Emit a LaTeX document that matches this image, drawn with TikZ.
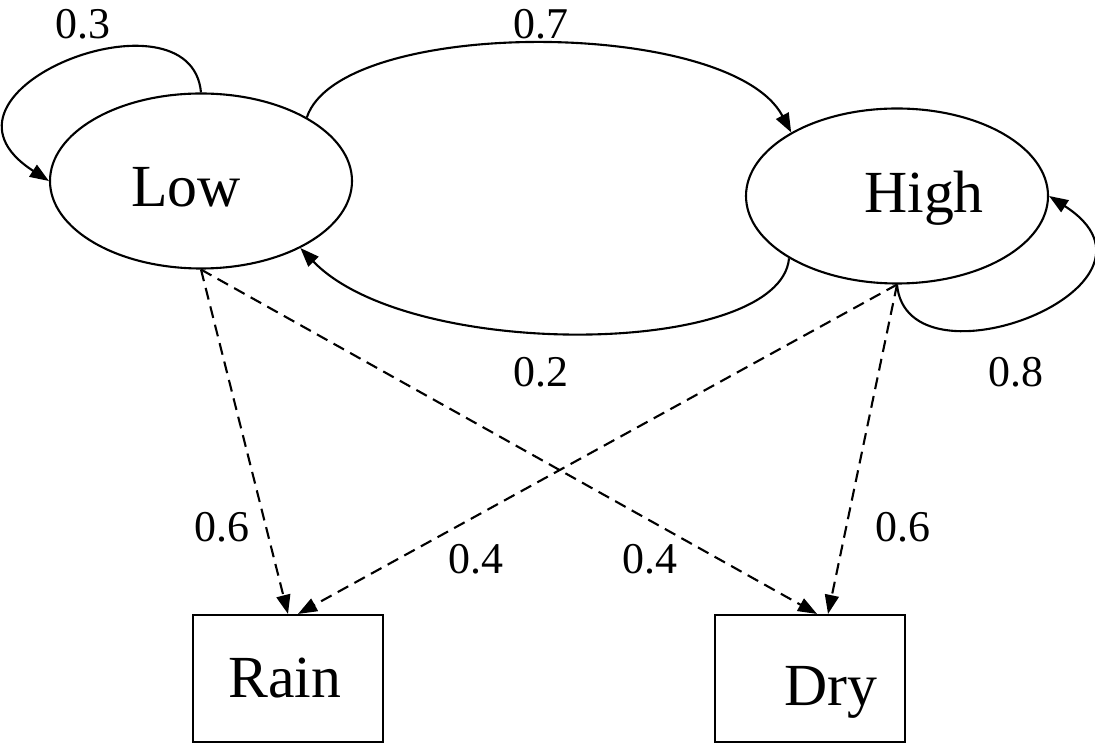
\documentclass[tikz,border=0pt]{standalone}
\usepackage{fontspec}
\setmainfont{Liberation Serif}
\usetikzlibrary{arrows.meta,shapes.geometric}

\begin{document}
\begin{tikzpicture}[
      line width=0.6pt,
      trans/.style={-{Triangle[length=0.19cm,width=0.14cm]}},
      emit/.style={trans, dash pattern=on 3.4pt off 2pt},
      state/.style={draw, ellipse, inner sep=0pt,
                    minimum width=3.02cm, minimum height=1.75cm},
      obs/.style={draw, rectangle, inner sep=0pt,
                  minimum width=1.9cm, minimum height=1.27cm},
      lbl/.style={font=\fontsize{17}{20}\selectfont, anchor=base, inner sep=0pt},
      prob/.style={font=\fontsize{12.5}{15}\selectfont, inner sep=0pt}
    ]
    \useasboundingbox (0,0) rectangle (10.95,7.42);
    % hidden states
    \node[state] (low) at (2.01,5.61) {};
    \node[state] (high) at (8.97,5.46) {};
    \node[lbl] (lowtxt) at (1.86,5.35) {Low};
    \node[lbl] (hightxt) at (9.24,5.29) {High};
    % observations
    \node[obs] (rain) at (2.88,0.635) {};
    \node[obs] (dry) at (8.10,0.635) {};
    \node[lbl] (raintxt) at (2.85,0.45) {Rain};
    \node[lbl] (drytxt) at (8.31,0.37) {Dry};
    % transitions
    \draw[trans] (low.90) .. controls +(-0.1,1.1) and +(-1.4,0.9) .. (low.180);
    \draw[trans] (high.270) .. controls +(0.1,-1.1) and +(1.4,-0.9) .. (high.0);
    \draw[trans] (low.31) .. controls (3.4,7.25) and (7.3,7.25) .. (high.149);
    \draw[trans] (high.210) .. controls (7.8,3.85) and (4.1,3.8) .. (low.-34);
    % emissions
    \draw[emit] (low.south) -- (rain.north);
    \draw[emit] (low.south) -- ([xshift=0.07cm]dry.north);
    \draw[emit] (high.south) -- ([xshift=0.1cm]rain.north);
    \draw[emit] (high.south) -- ([xshift=0.18cm]dry.north);
    % probabilities
    \node[prob] (p-ll) at (0.83,7.18) {0.3};
    \node[prob] (p-lh) at (5.41,7.18) {0.7};
    \node[prob] (p-hl) at (5.41,3.70) {0.2};
    \node[prob] (p-hh) at (10.16,3.70) {0.8};
    \node[prob] (p-lr) at (2.22,2.15) {0.6};
    \node[prob] (p-hr) at (4.76,1.83) {0.4};
    \node[prob] (p-ld) at (6.50,1.83) {0.4};
    \node[prob] (p-hd) at (9.03,2.15) {0.6};
  \end{tikzpicture}
\end{document}
